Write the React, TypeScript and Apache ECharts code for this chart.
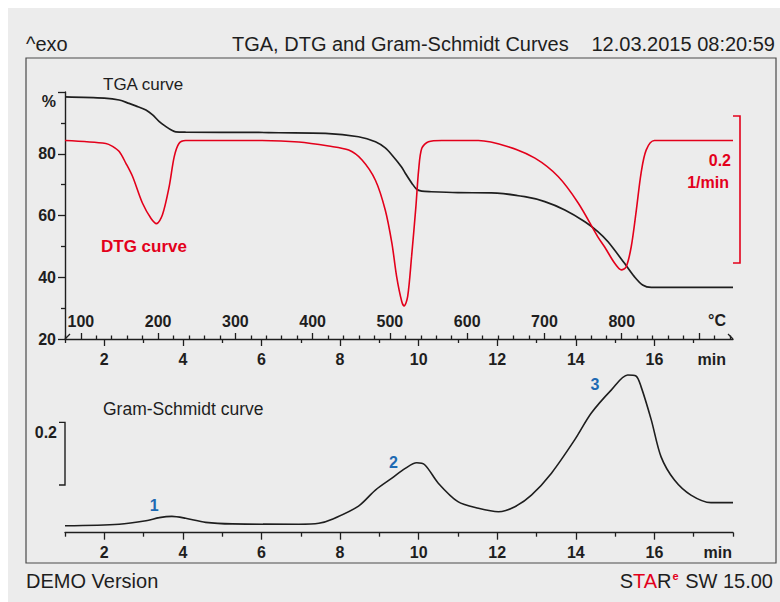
import React, { useEffect, useRef } from 'react';
import * as echarts from 'echarts';

// ---- data (time in min) ----
const tgaTime = [1.0, 2.0, 2.38, 2.63, 2.8, 3.06, 3.23, 3.4, 3.57, 3.73, 3.82, 4.07, 5.93, 6.44, 7.63, 8.47, 8.9, 9.15, 9.32, 9.56, 9.66, 9.83, 9.95, 10.08, 10.32, 11.0, 11.85, 12.7, 13.21, 13.72, 14.23, 14.56, 14.82, 15.24, 15.49, 15.7, 15.92, 18.0];
const tgaPercent = [98.4, 98.0, 97.4, 96.3, 95.5, 94.2, 92.6, 90.4, 88.8, 87.5, 87.1, 87.0, 86.9, 86.8, 86.6, 85.5, 83.9, 81.9, 79.6, 75.8, 73.7, 70.4, 68.5, 67.9, 67.7, 67.4, 67.3, 66.1, 64.5, 61.8, 58.0, 54.8, 51.5, 44.5, 40.2, 37.5, 36.7, 36.7];

const dtgTime = [1.0, 2.04, 2.21, 2.38, 2.55, 2.72, 2.97, 3.19, 3.33, 3.48, 3.65, 3.78, 3.9, 4.07, 5.93, 6.95, 7.71, 8.22, 8.56, 8.9, 9.15, 9.32, 9.44, 9.57, 9.63, 9.72, 9.82, 9.93, 10.0, 10.08, 10.25, 10.59, 11.52, 12.28, 12.96, 13.55, 14.06, 14.56, 14.73, 14.99, 15.16, 15.28, 15.41, 15.54, 15.66, 15.79, 16.0, 18.0];
const dtgRate = [0, -0.004, -0.008, -0.015, -0.031, -0.049, -0.085, -0.106, -0.113, -0.101, -0.063, -0.022, -0.004, 0, 0, -0.002, -0.0075, -0.013, -0.0265, -0.054, -0.0946, -0.14, -0.185, -0.219, -0.225, -0.2125, -0.158, -0.09, -0.04, -0.0106, -0.0016, 0, 0, -0.0084, -0.024, -0.049, -0.085, -0.131, -0.1445, -0.167, -0.176, -0.172, -0.1445, -0.0946, -0.0446, -0.013, 0, 0];

const gsTime = [1.0, 2.38, 3.06, 3.4, 3.72, 4.07, 4.58, 5.26, 6.95, 7.46, 7.8, 8.47, 8.9, 9.32, 9.66, 9.95, 10.16, 10.5, 11.0, 11.52, 12.03, 12.45, 12.87, 13.38, 13.97, 14.39, 14.9, 15.32, 15.53, 15.66, 15.92, 16.17, 16.51, 16.93, 17.44, 18.0];
const gsIntensity = [0.022, 0.027, 0.038, 0.048, 0.052, 0.046, 0.033, 0.028, 0.027, 0.03, 0.043, 0.085, 0.136, 0.174, 0.205, 0.223, 0.216, 0.158, 0.099, 0.078, 0.067, 0.083, 0.12, 0.19, 0.296, 0.381, 0.455, 0.503, 0.5, 0.466, 0.36, 0.242, 0.168, 0.12, 0.096, 0.096];

const peakLabels = ['1', '2', '3'];
const peakTime = [3.27, 9.36, 14.49];
const peakValue = [0.088, 0.2255, 0.474];

const timeMajorTicks = [2, 4, 6, 8, 10, 12, 14, 16];
const timeMinorTicks = [1, 3, 5, 7, 9, 11, 13, 15, 17];
const timeMinorTicksBottom = [1, 3, 5, 7, 9, 11, 13, 15, 17, 18];
const tempLabels = [100, 200, 300, 400, 500, 600, 700, 800];
const tempMajorTicks = [100, 200, 300, 400, 500, 600, 700, 800, 900];
const tempMinorTicks = [
  80, 120, 140, 160, 180, 220, 240, 260, 280, 320, 340, 360, 380, 420, 440, 460, 480,
  520, 540, 560, 580, 620, 640, 660, 680, 720, 740, 760, 780, 820, 840, 860, 880, 920, 940,
];

const FONT = 'Liberation Sans, Arial, Helvetica, sans-serif';
const INK = '#1e1e1e';
const RED = '#e3001b';
const BLUE = '#1d6ab3';

const zip = (a: number[], b: number[]) => a.map((v, i) => [v, b[i]]);

export default function App() {
  const ref = useRef<HTMLDivElement>(null);
  useEffect(() => {
    const chart = echarts.init(ref.current!, null, { renderer: 'svg' });
    const tickLabel = { fontFamily: FONT, fontSize: 16, fontWeight: 'bold' as const, color: INK };
    const axisLine = { show: true, onZero: false, lineStyle: { color: INK, width: 1.4 } };
    const noLine = { show: false, onZero: false };
    const tickStyle = { color: INK, width: 1.3 };
    const base = { type: 'value' as const, position: 'bottom' as const, splitLine: { show: false } };

    chart.setOption({
      animation: false,
      backgroundColor: '#ececec',
      grid: [
        { left: 57, right: 47, top: 84, height: 247 },
        { left: 57, right: 47, top: 352.3, height: 172.4 },
      ],
      xAxis: [
        { ...base, gridIndex: 0, min: 1, max: 18, axisLine,
          axisTick: { customValues: timeMajorTicks, length: 7, lineStyle: tickStyle },
          axisLabel: { ...tickLabel, customValues: timeMajorTicks, margin: 12 } },
        { ...base, gridIndex: 0, min: 1, max: 18, axisLine: noLine,
          axisTick: { customValues: timeMinorTicks, length: 4, lineStyle: tickStyle },
          axisLabel: { show: false } },
        { ...base, gridIndex: 0, min: 79.5, max: 944, axisLine: noLine,
          axisTick: { inside: true, customValues: tempMajorTicks, length: 6, lineStyle: tickStyle },
          axisLabel: { ...tickLabel, inside: true, customValues: tempLabels, margin: 10 } },
        { ...base, gridIndex: 0, min: 79.5, max: 944, axisLine: noLine,
          axisTick: { inside: true, customValues: tempMinorTicks, length: 3.5, lineStyle: tickStyle },
          axisLabel: { show: false } },
        { ...base, gridIndex: 1, min: 1, max: 18, axisLine,
          axisTick: { customValues: timeMajorTicks, length: 7, lineStyle: tickStyle },
          axisLabel: { ...tickLabel, customValues: timeMajorTicks, margin: 12 } },
        { ...base, gridIndex: 1, min: 1, max: 18, axisLine: noLine,
          axisTick: { customValues: timeMinorTicksBottom, length: 4, lineStyle: tickStyle },
          axisLabel: { show: false } },
      ],
      yAxis: [
        { type: 'value', position: 'left', splitLine: { show: false }, gridIndex: 0, min: 20, max: 100, interval: 20, axisLine,
          axisTick: { length: 7, lineStyle: tickStyle },
          minorTick: { show: true, splitNumber: 2, length: 4, lineStyle: tickStyle },
          minorSplitLine: { show: false },
          axisLabel: { ...tickLabel, margin: 9,
            formatter: (v: number) => (v === 100 ? '{p|%}' : String(v)),
            rich: { p: { fontFamily: FONT, fontSize: 16, fontWeight: 'bold', color: INK, padding: [19, 0, 0, 0] } } } },
        { type: 'value', gridIndex: 0, min: -0.27, max: 0.066, show: false },
        { type: 'value', gridIndex: 1, min: 0, max: 0.55, show: false },
      ],
      series: [
        { type: 'line', name: 'TGA', xAxisIndex: 0, yAxisIndex: 0, data: zip(tgaTime, tgaPercent),
          showSymbol: false, smooth: 0.3, lineStyle: { color: INK, width: 1.7 }, itemStyle: { color: INK } },
        { type: 'line', name: 'DTG', xAxisIndex: 0, yAxisIndex: 1, data: zip(dtgTime, dtgRate),
          showSymbol: false, smooth: 0.3, lineStyle: { color: RED, width: 1.6 }, itemStyle: { color: RED } },
        { type: 'line', name: 'Gram-Schmidt', xAxisIndex: 4, yAxisIndex: 2, data: zip(gsTime, gsIntensity),
          showSymbol: false, smooth: 0.3, lineStyle: { color: INK, width: 1.6 }, itemStyle: { color: INK },
          markPoint: {
            symbol: 'circle', symbolSize: 1, itemStyle: { color: 'rgba(0,0,0,0)' },
            label: { show: true, position: 'inside', fontFamily: FONT, fontSize: 16, fontWeight: 'bold', color: BLUE,
              formatter: (p: any) => p.name },
            data: peakLabels.map((n, i) => ({ name: n, coord: [peakTime[i], peakValue[i]] })),
          } },
      ],
    });

    const px = (xi: number, yi: number, pt: number[]) => chart.convertToPixel({ xAxisIndex: xi, yAxisIndex: yi }, pt) as number[];
    const redTop = px(0, 1, [18, 0.0333]);
    const redBot = px(0, 1, [18, 0.0333 - 0.2]);
    const rx = redTop[0] + 7;
    const gsTop = px(4, 2, [1, 0.352]);
    const gsBot = px(4, 2, [1, 0.152]);
    const gx = gsTop[0];
    const origin = px(0, 0, [1, 20]);
    const end = px(0, 0, [18, 20]);
    const endB = px(4, 2, [18, 0]);

    const txt = (text: string, x: number, y: number, opts: any = {}) => ({
      type: 'text', x, y,
      style: { text, fill: INK, fontFamily: FONT, fontSize: 20, align: 'left', verticalAlign: 'middle', ...opts },
    });

    chart.setOption({
      graphic: [
        { type: 'rect', shape: { x: 18, y: 50, width: 750, height: 505 }, style: { fill: 'none', stroke: '#4a4a4a', lineWidth: 1.2 } },
        txt('^exo', 18, 36),
        txt('TGA, DTG and Gram-Schmidt Curves', 224, 36),
        txt('12.03.2015 08:20:59', 767, 36, { align: 'right' }),
        txt('DEMO Version', 18, 573),
        { type: 'text', x: 765, y: 573, style: {
          text: '{k|S}{r|TA}{k|R}{s|e}{k| SW 15.00}', align: 'right', verticalAlign: 'middle',
          rich: {
            k: { fontFamily: FONT, fontSize: 20, fill: INK, lineHeight: 22 },
            r: { fontFamily: FONT, fontSize: 20, fill: RED, lineHeight: 22 },
            s: { fontFamily: FONT, fontSize: 11, fontWeight: 'bold', fill: RED, lineHeight: 22, verticalAlign: 'top', padding: [0, 1, 0, 1] },
          } } },
        txt('TGA curve', 95, 76, { fontSize: 17 }),
        txt('DTG curve', 93, 238, { fontSize: 17, fontWeight: 'bold', fill: RED }),
        txt('Gram-Schmidt curve', 95, 401, { fontSize: 17.5 }),
        // red scale bar
        { type: 'polyline', shape: { points: [[rx - 7, redTop[1]], [rx, redTop[1]], [rx, redBot[1]], [rx - 7, redBot[1]]] },
          style: { fill: 'none', stroke: RED, lineWidth: 1.6 } },
        txt('0.2', rx - 9, redTop[1] + 44, { fontSize: 16, fontWeight: 'bold', fill: RED, align: 'right' }),
        txt('1/min', rx - 11, redTop[1] + 66, { fontSize: 16, fontWeight: 'bold', fill: RED, align: 'right' }),
        // Gram-Schmidt scale bar
        { type: 'polyline', shape: { points: [[gx - 6, gsTop[1]], [gx, gsTop[1]], [gx, gsBot[1]], [gx - 6, gsBot[1]]] },
          style: { fill: 'none', stroke: INK, lineWidth: 1.4 } },
        txt('0.2', gx - 8, gsTop[1] + 10, { fontSize: 16, fontWeight: 'bold', align: 'right' }),
        // axis unit labels
        txt('°C', end[0] - 7, end[1] - 19, { fontSize: 16, fontWeight: 'bold', align: 'right' }),
        txt('min', end[0] - 7, end[1] + 20, { fontSize: 16, fontWeight: 'bold', align: 'right' }),
        txt('min', endB[0] - 1, endB[1] + 20, { fontSize: 16, fontWeight: 'bold', align: 'right' }),
        // axis end marks
        { type: 'line', shape: { x1: origin[0], y1: origin[1], x2: origin[0] + 5, y2: origin[1] - 5 }, style: { stroke: INK, lineWidth: 1.3 } },
        { type: 'line', shape: { x1: end[0] - 5, y1: end[1] - 5, x2: end[0], y2: end[1] }, style: { stroke: INK, lineWidth: 1.3 } },
      ],
    });
    return () => chart.dispose();
  }, []);
  return <div ref={ref} style={{ position: 'fixed', left: 8, top: 8, width: 772, height: 594 }} />;
}
